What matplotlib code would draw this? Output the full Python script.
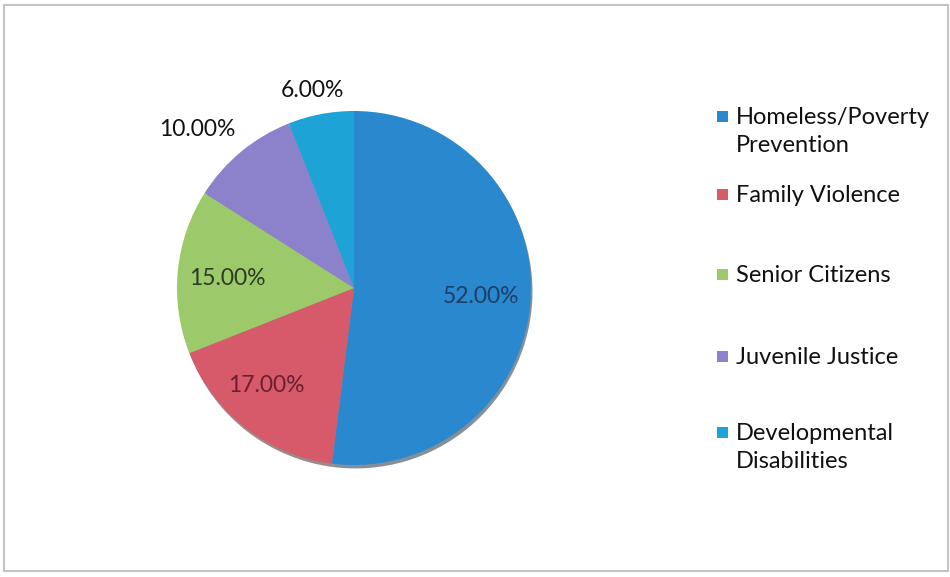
import numpy as np
import matplotlib
matplotlib.use("Agg")
import matplotlib.pyplot as plt
from matplotlib.patches import Rectangle

## Data ##
categories = ["Homeless/Poverty\nPrevention", "Family Violence", "Senior Citizens",
              "Juvenile Justice", "Developmental\nDisabilities"]
shares = [52.0, 17.0, 15.0, 10.0, 6.0]

## Styles ##
colors = ["#2a88cf", "#d65a69", "#9cc96a", "#8c82cc", "#1ea3d6"]
label_colors = ["#1d3f66", "#6a2030", "#2e3a22", "#111111", "#111111"]
label_dist = [0.72, 0.74, 0.72, 1.26, 1.14]
label_shift = [0, -4, 1, 5, 1]   # degrees, to follow the Excel placement
font = ["Lato", "DejaVu Sans"]

W, H = 950, 577
fig = plt.figure(figsize=(W / 100, H / 100), dpi=100)
fig.patch.set_facecolor("white")

# outer chart border
fig.patches.append(Rectangle((4 / W, 1 - 571 / H), 944 / W, 566 / H,
                             transform=fig.transFigure, fill=False,
                             edgecolor="#c4c4c4", lw=1.5))

## Pie ##
cx, cy, r = 354, 288, 177
ax = fig.add_axes([(cx - r) / W, (H - cy - r) / H, 2 * r / W, 2 * r / H])
wedges, _ = ax.pie(shares, colors=colors, startangle=90, counterclock=False,
                   radius=1.0, wedgeprops=dict(linewidth=0),
                   shadow=dict(ox=0.006, oy=-0.014, shade=0.75))
ax.set_xlim(-1, 1)
ax.set_ylim(-1, 1)
ax.set_aspect("equal")
ax.axis("off")

for w, s, d, sh, c in zip(wedges, shares, label_dist, label_shift, label_colors):
    mid = np.deg2rad((w.theta1 + w.theta2) / 2 + sh)
    ax.text(d * np.cos(mid), d * np.sin(mid), f"{s:.2f}%", ha="center",
            va="center", fontsize=16.5, color=c, family=font, clip_on=False)

## Legend (Excel-style spacing) ##
tops = [117, 195, 275, 357, 433]
for lab, col, yt in zip(categories, colors, tops):
    fig.patches.append(Rectangle((717 / W, 1 - (yt + 5) / H), 11 / W, 11 / H,
                                 transform=fig.transFigure, color=col, lw=0))
    fig.text(736 / W, 1 - (yt - 10) / H, lab, ha="left", va="top",
             fontsize=17, color="#111111", family=font, linespacing=1.4)

plt.savefig("out.png", dpi=100)
